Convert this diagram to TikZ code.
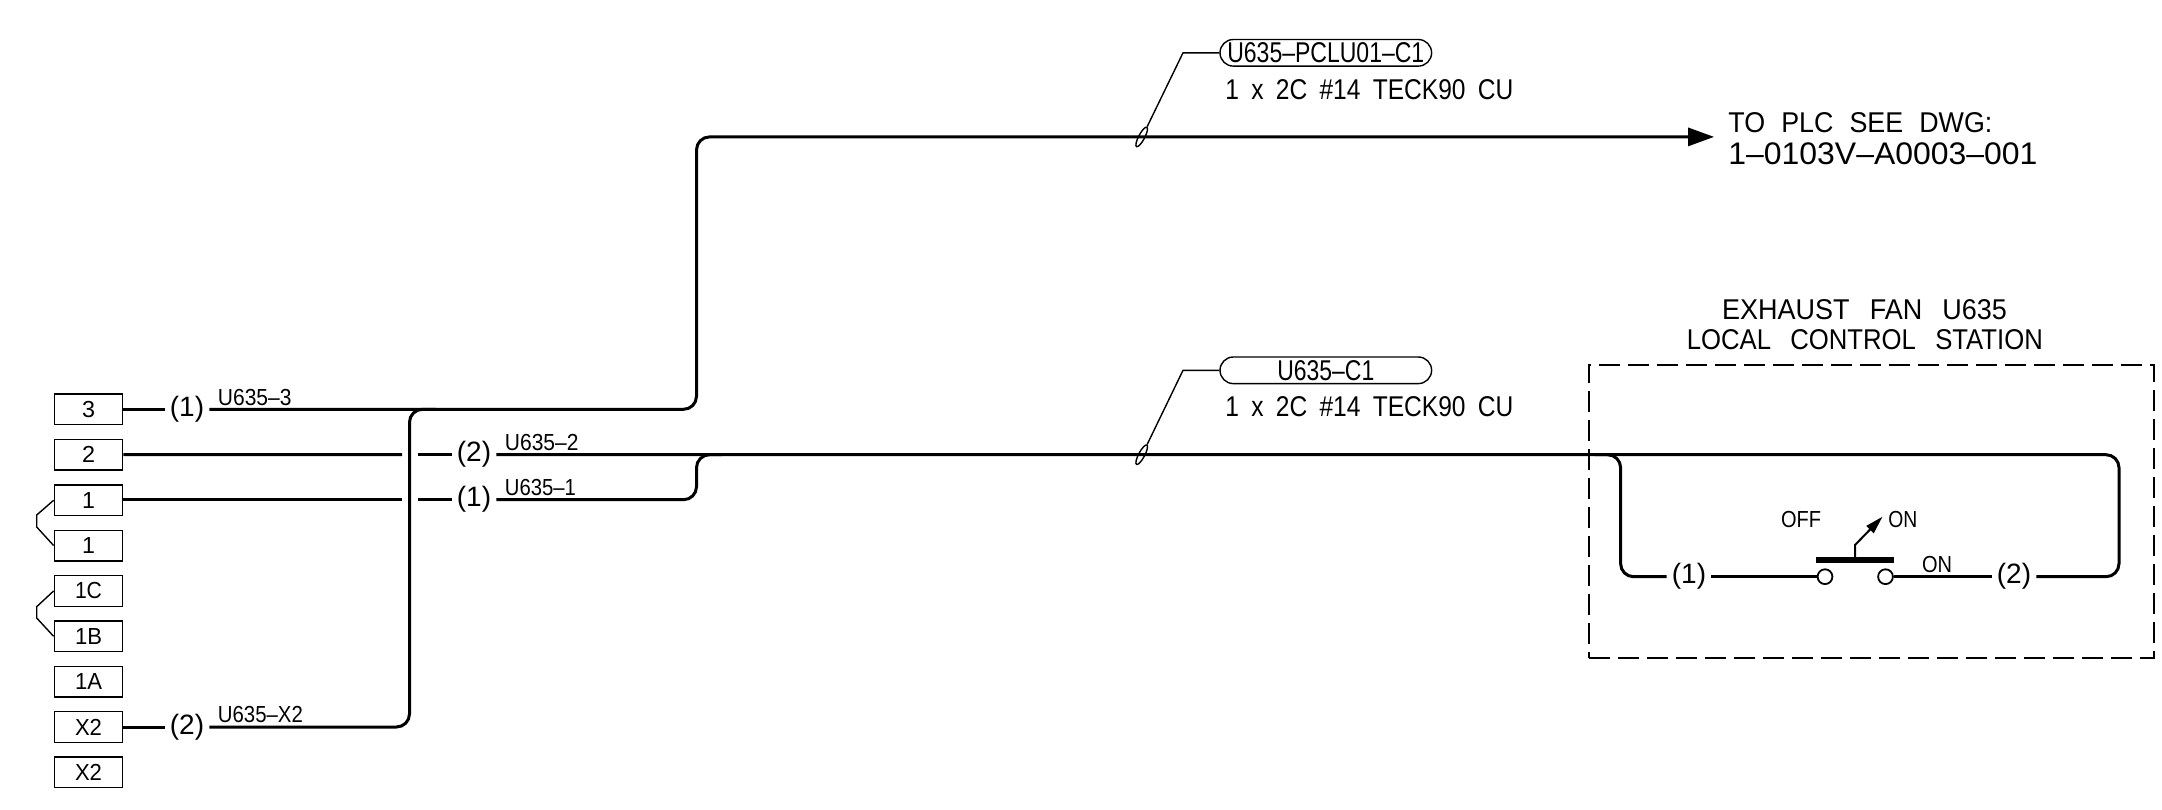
\documentclass[tikz,border=0pt]{standalone}
\usepackage{graphicx}
\usepackage{fontspec}
\setmainfont{Liberation Sans}
\usetikzlibrary{arrows.meta,shapes.misc,shapes.geometric}
\newlength\fitw
\newcommand\fit[2]{\setlength{\fitw}{#1pt}\setlength{\fitw}{0.5\fitw}\resizebox{\fitw}{\height}{#2}}
\tikzset{
  wire/.style={line width=1.5pt,rounded corners=6.5pt},
  thin line/.style={line width=.7pt},
  term/.style={draw,line width=.7pt,minimum width=34.2pt,minimum height=15.3pt,inner sep=0pt,font=\fontsize{11.6}{12}\selectfont},
  par/.style={inner sep=0pt,minimum width=22pt,font=\fontsize{14}{14}\selectfont},
  big/.style={inner sep=0pt,anchor=base west,font=\fontsize{14.3}{14}\selectfont},
  small/.style={inner sep=0pt,anchor=base west,font=\fontsize{11.6}{12}\selectfont},
  pill/.style={draw,line width=.7pt,rounded rectangle,minimum width=105.8pt,minimum height=13.3pt,inner sep=0pt,font=\fontsize{14.3}{14}\selectfont},
  contact/.style={circle,draw,line width=.9pt,minimum size=7.4pt,inner sep=0pt},
  tick/.style={draw,line width=.7pt,ellipse,rotate=62,minimum width=11pt,minimum height=3pt,inner sep=0pt}
}
\begin{document}
\begin{tikzpicture}[x=0.5pt,y=-0.5pt]
\useasboundingbox (0,0) rectangle (2162,809);
% terminals
\node[term] (t3)  at (88.5,409.3) {\fit{13}{3}};
\node[term] (t2)  at (88.5,454.5) {\fit{13}{2}};
\node[term] (t1a) at (88.5,500.3) {1};
\node[term] (t1b) at (88.5,545.5) {1};
\node[term] (t1c) at (88.5,591) {\fit{27}{1C}};
\node[term] (t1d) at (88.5,636.3) {\fit{27}{1B}};
\node[term] (t1e) at (88.5,681.7) {\fit{27}{1A}};
\node[term] (tx)  at (88.5,727) {\fit{27}{X2}};
\node[term] (ty)  at (88.5,772.3) {\fit{27}{X2}};
% jumpers
\draw[thin line] (t1a.west) -- (36.7,515) -- (36.7,527) -- (t1b.west);
\draw[thin line] (t1c.west) -- (36.7,606.7) -- (36.7,618) -- (t1d.west);
% wire numbers
\node[par] (pa) at (187,409.3) {(1)};
\node[par] (pb) at (187,727) {(2)};
\node[par] (pc) at (474,454.7) {(2)};
\node[par] (pd) at (474,499.7) {(1)};
\node[par] (pe) at (1689,576.7) {(1)};
\node[par] (pf) at (2014,576.7) {(2)};
% wire labels
\node[small] (l3) at (217.5,405) {\fit{73.6}{U635–3}};
\node[small] (lx) at (217.5,722.7) {\fit{85}{U635–X2}};
\node[small] (l2) at (504.5,450) {\fit{73.6}{U635–2}};
\node[small] (l1) at (504.5,495.5) {\fit{71}{U635–1}};
% wire gap points
\coordinate (g2a) at (402,454.7);
\coordinate (g2b) at (417.5,454.7);
\coordinate (g1a) at (402,499.7);
\coordinate (g1b) at (417.5,499.7);
% cable 1
\node[inner sep=0pt,minimum size=0pt] (tip) at (1714.5,136.9) {};
\coordinate (c1) at (696.5,409.3);
\coordinate (c2) at (696.5,136.9);
\coordinate (v1) at (409.5,727);
\coordinate (v2) at (409.5,409.3);
\coordinate (v3) at (436,409.3);
\draw[line width=1.5pt] (t3.east) -- (pa.west);
\draw[wire,-{Triangle[length=13pt,width=9pt]}] (pa.east) -- (c1) -- (c2) -- (tip);
\draw[line width=1.5pt] (tx.east) -- (pb.west);
\draw[wire] (pb.east) -- (v1) -- (v2) -- (v3);
\draw[line width=1.5pt] (t2.east) -- (g2a);
\draw[line width=1.5pt] (g2b) -- (pc.west);
\draw[line width=1.5pt] (t1a.east |- g1a) -- (g1a);
\draw[line width=1.5pt] (g1b) -- (pd.west);
% cable 2
\coordinate (d1) at (696.5,499.7);
\coordinate (d2) at (696.5,454.7);
\coordinate (d3) at (722,454.7);
\coordinate (e1) at (2119,454.7);
\coordinate (e2) at (2119,576.7);
\coordinate (f0) at (1595,454.7);
\coordinate (f1) at (1620.6,454.7);
\coordinate (f2) at (1620.6,576.7);
\draw[wire] (pd.east) -- (d1) -- (d2) -- (d3);
\draw[wire] (pc.east) -- (e1) -- (e2) -- (pf.east);
\draw[wire] (f0) -- (f1) -- (f2) -- (pe.west);
% switch
\node[contact] (sa) at (1825,576.7) {};
\node[contact] (sb) at (1885.5,576.7) {};
\draw[line width=1.3pt] (pe.east) -- (sa.west);
\draw[line width=1.3pt] (sb.east) -- (pf.west);
\coordinate (b1) at (1816.4,560);
\coordinate (b2) at (1894,560);
\coordinate (b3) at (1855,560);
\coordinate (b4) at (1855,545);
\coordinate (b5) at (1882.5,516.7);
\draw[line width=3pt] (b1) -- (b2);
\draw[line width=1pt,-{Triangle[length=9pt,width=5pt]}] (b3) -- (b4) -- (b5);
\node[small] (off) at (1780.7,527.3) {\fit{40}{OFF}};
\node[small] (on1) at (1888,527.3) {\fit{29}{ON}};
\node[small] (on2) at (1921.6,572.7) {\fit{30}{ON}};
% station box
\node[inner sep=0pt,draw,line width=1.2pt,dash pattern=on 10.5pt off 4pt,minimum width=282.6pt,minimum height=146.5pt] (station) at (1871.4,511.2) {};
\node[big,anchor=base] (tt1) at (1864.5,319.3) {\fit{285}{EXHAUST\hspace{.75em}FAN\hspace{.75em}U635}};
\node[big,anchor=base] (tt2) at (1864.8,349.3) {\fit{356}{LOCAL\hspace{.75em}CONTROL\hspace{.75em}STATION}};
% cable tags
\node[pill] (pa1) at (1325.8,52.8) {\fit{197}{U635–PCLU01–C1}};
\node[pill] (pa2) at (1325.8,370.3) {\fit{97}{U635–C1}};
\node[big] (sp1) at (1225,99) {\fit{288}{1\hspace{.5em}x\hspace{.5em}2C\hspace{.5em}\#14\hspace{.5em}TECK90\hspace{.5em}CU}};
\node[big] (sp2) at (1225,416.7) {\fit{288}{1\hspace{.5em}x\hspace{.5em}2C\hspace{.5em}\#14\hspace{.5em}TECK90\hspace{.5em}CU}};
\node[tick] (tk1) at (1141.7,136.9) {};
\node[tick] (tk2) at (1141.7,454.7) {};
\coordinate (q1) at (1183,52.8);
\coordinate (q2) at (1183,370.3);
\draw[thin line] (tk1.east) -- (q1) -- (pa1.west);
\draw[thin line] (tk2.east) -- (q2) -- (pa2.west);
% destination
\node[big] (to1) at (1728,132.7) {\fit{264}{TO\hspace{.6em}PLC\hspace{.6em}SEE\hspace{.6em}DWG:}};
\node[big,font=\fontsize{15.6}{16}\selectfont] (to2) at (1728,164) {\fit{309}{1–0103V–A0003–001}};
\end{tikzpicture}
\end{document}
